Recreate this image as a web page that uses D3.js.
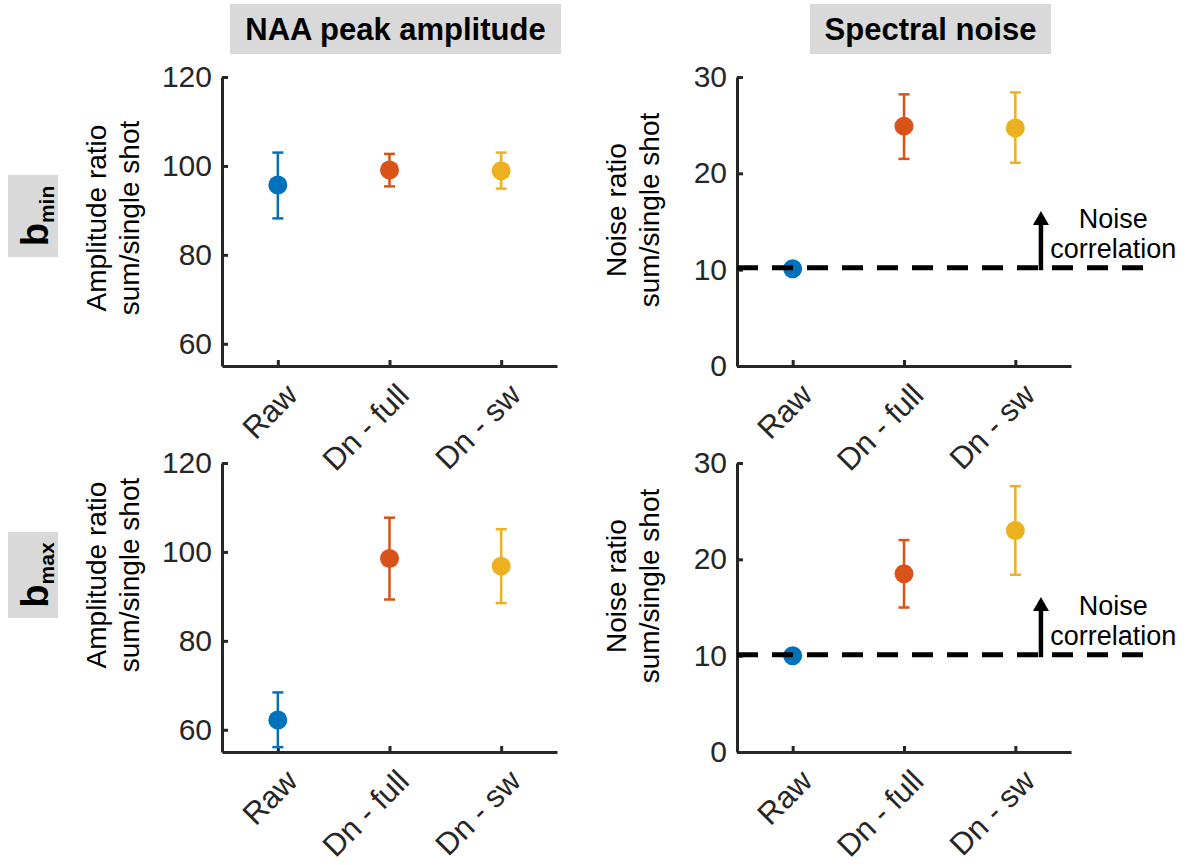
<!DOCTYPE html>
<html>
<meta charset="utf-8">
<script src="https://cdn.jsdelivr.net/npm/d3@7/dist/d3.min.js"></script>
<style>
  body { margin: 0; background: white; }
  text { font-family: "Liberation Sans", Arial, Helvetica, sans-serif; }
</style>
<body>
<div id="chart"></div>
<script>

// ---- data ----
var categories = ["Raw", "Dn - full", "Dn - sw"]
var colours = ["#0072BD", "#D95319", "#EDB120"]

// NAA amplitude ratio, b_min
var ampMinMean = [95.7, 99.1, 98.9]
var ampMinLow  = [88.2, 95.4, 94.9]
var ampMinHigh = [103.0, 102.7, 103.0]

// spectral noise ratio, b_min
var noiseMinMean = [10.1, 24.9, 24.7]
var noiseMinLow  = [10.1, 21.5, 21.1]
var noiseMinHigh = [10.1, 28.2, 28.4]

// NAA amplitude ratio, b_max
var ampMaxMean = [62.2, 98.5, 96.8]
var ampMaxLow  = [56.1, 89.3, 88.5]
var ampMaxHigh = [68.4, 107.7, 105.1]

// spectral noise ratio, b_max
var noiseMaxMean = [10.0, 18.5, 23.0]
var noiseMaxLow  = [10.0, 15.0, 18.4]
var noiseMaxHigh = [10.0, 22.0, 27.6]

var ampDomain = [55, 120]
var ampTicks = [60, 80, 100, 120]
var noiseDomain = [0, 30]
var noiseTicks = [0, 10, 20, 30]

var noiseFloorMin = 10.2   // dashed line, top row
var noiseFloorMax = 10.1   // dashed line, bottom row
var arrowTop = 16.1

var width = 1194, height = 865
var axisCol = "#262626"
var boxCol = "#d9d9d9"

var svg = d3.select("#chart").append("svg")
  .attr("width", width)
  .attr("height", height)

// column titles
var titles = [
  {text: "NAA peak amplitude", x0: 230, x1: 561},
  {text: "Spectral noise", x0: 810, x1: 1051}
]
titles.forEach(function(t){
  svg.append("rect").attr("x", t.x0).attr("y", 4).attr("width", t.x1 - t.x0).attr("height", 50).attr("fill", boxCol)
  svg.append("text").attr("x", (t.x0 + t.x1) / 2).attr("y", 40)
    .attr("text-anchor", "middle").attr("font-size", 31).attr("font-weight", "bold")
    .attr("fill", "black").text(t.text)
})

// row labels
var rows = [
  {sub: "min", y0: 175, y1: 257},
  {sub: "max", y0: 532, y1: 618}
]
rows.forEach(function(r){
  svg.append("rect").attr("x", 8).attr("y", r.y0).attr("width", 50).attr("height", r.y1 - r.y0).attr("fill", boxCol)
  var t = svg.append("text")
    .attr("transform", "translate(48," + ((r.y0 + r.y1) / 2) + ") rotate(-90)")
    .attr("text-anchor", "middle").attr("font-weight", "bold").attr("fill", "black")
  t.append("tspan").attr("font-size", 38).text("b")
  t.append("tspan").attr("font-size", 21).attr("dy", 6).text(r.sub)
})

function drawPanel(p){
  var x = d3.scaleLinear().domain([0.5, 3.5]).range([p.left, p.right])
  var y = d3.scaleLinear().domain(p.domain).range([p.bottom, p.top])
  var g = svg.append("g")

  // y axis
  var yAxis = d3.axisLeft(y).tickValues(p.ticks).tickSize(-6).tickPadding(10).tickSizeOuter(0)
  var ya = g.append("g").attr("transform", "translate(" + p.left + ",0)").call(yAxis)
  ya.select(".domain").attr("stroke", axisCol).attr("stroke-width", 3)
  ya.selectAll(".tick line").attr("stroke", axisCol).attr("stroke-width", 3)
  ya.selectAll(".tick text").attr("font-size", 30).attr("fill", axisCol)
    .attr("font-family", "Liberation Sans, Arial, sans-serif")

  // x axis
  var xAxis = d3.axisBottom(x).tickValues([1, 2, 3]).tickSize(-6).tickSizeOuter(0).tickFormat(function(d){ return categories[d - 1] })
  var xa = g.append("g").attr("transform", "translate(0," + p.bottom + ")").call(xAxis)
  xa.select(".domain").attr("stroke", axisCol).attr("stroke-width", 3)
  xa.selectAll(".tick line").attr("stroke", axisCol).attr("stroke-width", 3)
  xa.selectAll(".tick text")
    .attr("font-size", 31).attr("fill", axisCol)
    .attr("font-family", "Liberation Sans, Arial, sans-serif")
    .attr("text-anchor", "end").attr("dy", null).attr("y", null)
    .attr("transform", "translate(21,31) rotate(-45)")

  // y label, two lines
  var lab = g.append("text")
    .attr("transform", "translate(" + (p.left - p.labOff) + "," + p.labY + ") rotate(-90)")
    .attr("text-anchor", "middle").attr("font-size", 28).attr("fill", "black")
  lab.append("tspan").attr("x", 0).attr("y", 0).text(p.label)
  lab.append("tspan").attr("x", 0).attr("y", 33).text("sum/single shot")

  // error bars
  var idx = [0, 1, 2]
  idx.forEach(function(i){
    if (p.high[i] - p.low[i] <= 0) return
    var cx = x(i + 1)
    g.append("line").attr("x1", cx).attr("x2", cx).attr("y1", y(p.low[i])).attr("y2", y(p.high[i]))
      .attr("stroke", colours[i]).attr("stroke-width", 2.5)
    ;[p.low[i], p.high[i]].forEach(function(v){
      g.append("line").attr("x1", cx - 5.5).attr("x2", cx + 5.5).attr("y1", y(v)).attr("y2", y(v))
        .attr("stroke", colours[i]).attr("stroke-width", 2.5)
    })
  })

  // markers
  g.selectAll("circle.pt").data(p.mean).enter().append("circle")
    .attr("class", "pt")
    .attr("cx", function(d, i){ return x(i + 1) })
    .attr("cy", function(d){ return y(d) })
    .attr("r", 9.5)
    .attr("fill", function(d, i){ return colours[i] })

  // noise floor line + annotation
  if (p.floor != null){
    var fy = y(p.floor)
    g.append("line").attr("x1", x(0.5)).attr("x2", x(4.19)).attr("y1", fy).attr("y2", fy)
      .attr("stroke", "black").attr("stroke-width", 5).attr("stroke-dasharray", "21,14")
    var ax = x(3.23)
    g.append("line").attr("x1", ax).attr("x2", ax).attr("y1", fy + 2.5).attr("y2", y(arrowTop) + 12)
      .attr("stroke", "black").attr("stroke-width", 4.5)
    g.append("path")
      .attr("d", "M" + (ax - 8) + "," + (y(arrowTop) + 14) + "L" + ax + "," + y(arrowTop) + "L" + (ax + 8) + "," + (y(arrowTop) + 14) + "Z")
      .attr("fill", "black")
    g.append("text").attr("x", x(3.88)).attr("y", fy - 40)
      .attr("text-anchor", "middle").attr("font-size", 27).attr("fill", "black").text("Noise")
    g.append("text").attr("x", x(3.88)).attr("y", fy - 10)
      .attr("text-anchor", "middle").attr("font-size", 27).attr("fill", "black").text("correlation")
  }
}

var panels = [
  {left: 222, right: 557, top: 77, bottom: 366, domain: ampDomain, ticks: ampTicks,
   mean: ampMinMean, low: ampMinLow, high: ampMinHigh, label: "Amplitude ratio", labOff: 116, labY: 218, floor: null},
  {left: 737, right: 1071, top: 77, bottom: 366, domain: noiseDomain, ticks: noiseTicks,
   mean: noiseMinMean, low: noiseMinLow, high: noiseMinHigh, label: "Noise ratio", labOff: 111, labY: 210, floor: noiseFloorMin},
  {left: 222, right: 557, top: 463, bottom: 752, domain: ampDomain, ticks: ampTicks,
   mean: ampMaxMean, low: ampMaxLow, high: ampMaxHigh, label: "Amplitude ratio", labOff: 116, labY: 575, floor: null},
  {left: 737, right: 1071, top: 463, bottom: 752, domain: noiseDomain, ticks: noiseTicks,
   mean: noiseMaxMean, low: noiseMaxLow, high: noiseMaxHigh, label: "Noise ratio", labOff: 111, labY: 586, floor: noiseFloorMax}
]
panels.forEach(drawPanel)

</script>
</body>
</html>
